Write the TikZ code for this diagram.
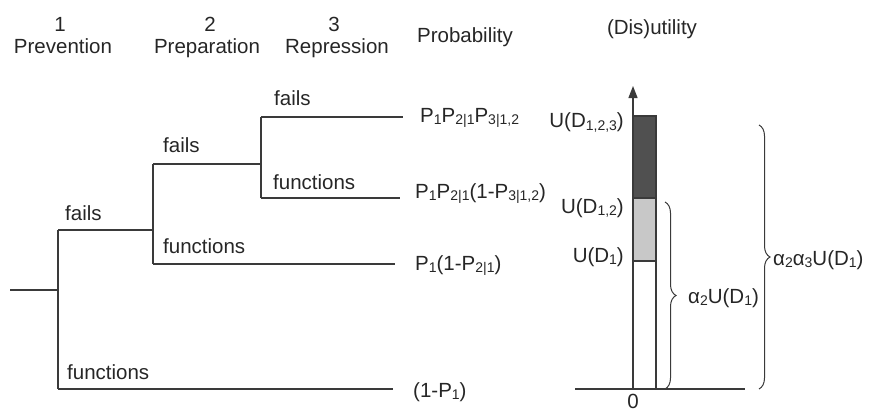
\documentclass[tikz,border=0pt]{standalone}
\usepackage{fontspec}
\setmainfont{Liberation Sans}
\usetikzlibrary{decorations.pathreplacing,arrows.meta}
\newcommand{\sbs}[1]{\raisebox{-2.5pt}{\fontsize{14}{14}\selectfont #1}}
\definecolor{linecol}{HTML}{3A3A3A}
\definecolor{darkfill}{HTML}{505050}
\definecolor{lightfill}{HTML}{C8C8C8}
\begin{document}
\begin{tikzpicture}[x=1pt,y=-1pt,
  every node/.style={inner sep=0pt,font=\fontsize{20.5}{24}\selectfont,text=black!85},
  ln/.style={draw=linecol,line width=1.3pt},
  lab/.style={anchor=base west},
  rlab/.style={anchor=base east},
  hdr/.style={anchor=base},
  brc/.style={draw=linecol,line width=1pt,decorate,decoration={brace,amplitude=11pt}}]
\useasboundingbox (0,0) rectangle (873,412);
% headers
\node[hdr] (h1) at (60,32) {1};
\node[hdr] (h1b) at (63,54) {Prevention};
\node[hdr] (h2) at (210,32) {2};
\node[hdr] (h2b) at (207,54) {Preparation};
\node[hdr] (h3) at (334,32) {3};
\node[hdr] (h3b) at (337,54) {Repression};
\node[hdr] (hp) at (465,43) {Probability};
\node[hdr] (hu) at (652,35) {(Dis)utility};
% tree coordinates
\coordinate (r0) at (10,290);
\coordinate (r1) at (58,290);
\coordinate (a1) at (58,230);
\coordinate (a2) at (58,389);
\coordinate (b1) at (153,230);
\coordinate (e1) at (393,389);
\coordinate (b0) at (153,164);
\coordinate (b2) at (153,264);
\coordinate (c1) at (261,164);
\coordinate (e2) at (395,264);
\coordinate (c0) at (261,117);
\coordinate (c2) at (261,198);
\coordinate (e3) at (403,117);
\coordinate (e4) at (400,198);
\draw[ln] (r0) -- (r1);
\draw[ln] (a1) -- (a2);
\draw[ln] (a1) -- (b1);
\draw[ln] (a2) -- (e1);
\draw[ln] (b0) -- (b2);
\draw[ln] (b0) -- (c1);
\draw[ln] (b2) -- (e2);
\draw[ln] (c0) -- (c2);
\draw[ln] (c0) -- (e3);
\draw[ln] (c2) -- (e4);
% branch labels
\node[lab] (f1) at (65,220) {fails};
\node[lab] (g1) at (67,379) {functions};
\node[lab] (f2) at (163,152) {fails};
\node[lab] (g2) at (163,253) {functions};
\node[lab] (f3) at (274,106) {fails};
\node[lab] (g3) at (273,189) {functions};
% probabilities
\node[lab] (p1) at (420,122) {P\sbs{1}P\sbs{2|1}P\sbs{3|1,2}};
\node[lab] (p2) at (415,198) {P\sbs{1}P\sbs{2|1}(1-P\sbs{3|1,2})};
\node[lab] (p3) at (415,270) {P\sbs{1}(1-P\sbs{2|1})};
\node[lab] (p4) at (413,397) {(1-P\sbs{1})};
% bar
\fill[white] (633,261) rectangle (656,389);
\fill[lightfill] (633,198) rectangle (656,261);
\fill[darkfill] (633,116) rectangle (656,198);
\draw[ln] (633,389) rectangle (656,116);
\draw[ln] (633,261) -- (656,261);
\draw[ln] (633,198) -- (656,198);
\coordinate (ax0) at (633,389);
\coordinate (ax1) at (633,86);
\coordinate (bl0) at (575,389);
\coordinate (bl1) at (745,389);
\draw[ln] (bl0) -- (bl1);
\draw[ln,-{Triangle[length=12pt,width=9pt]}] (ax0) -- (ax1);
\node[hdr] (zero) at (633,408) {0};
\node[rlab] (u3) at (624,128) {U(D\sbs{1,2,3})};
\node[rlab] (u2) at (624,213) {U(D\sbs{1,2})};
\node[rlab] (u1) at (624,262) {U(D\sbs{1})};
% braces
\coordinate (s0) at (665,202);
\coordinate (s1) at (665,389);
\coordinate (t0) at (759,125);
\coordinate (t1) at (759,389);
\draw[brc] (s0) -- (s1);
\draw[brc] (t0) -- (t1);
\node[lab] (al1) at (688,303) {α\sbs{2}U(D\sbs{1})};
\node[lab] (al2) at (773,265) {α\sbs{2}α\sbs{3}U(D\sbs{1})};
\end{tikzpicture}
\end{document}
